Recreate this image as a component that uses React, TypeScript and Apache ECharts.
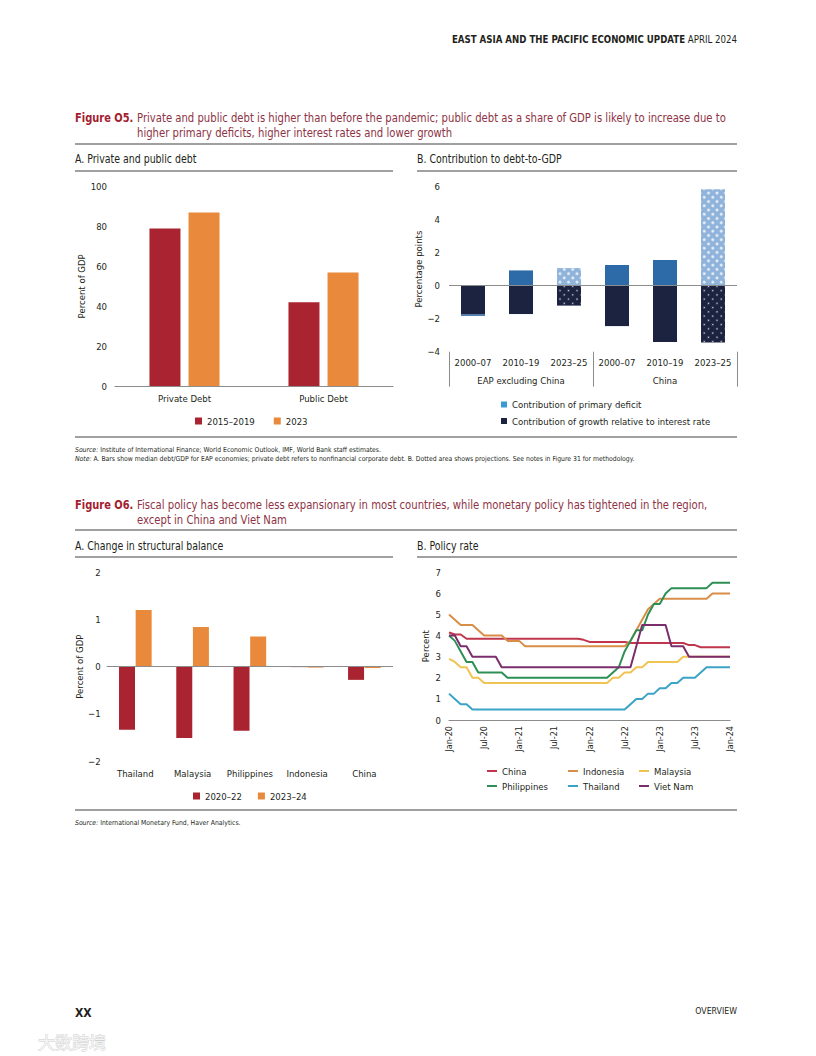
import React, { useEffect, useRef } from 'react';
import * as echarts from 'echarts';

const FONT = "'Liberation Sans Narrow', 'DejaVu Sans Condensed', 'Roboto', sans-serif";
const TEXT_COLOR = '#231f20';
const RULE_COLOR = '#808080';
const AXIS_COLOR = '#8c8c8c';

// ---------- Figure O5, panel A ----------
const DEBT_CATEGORIES = ['Private Debt', 'Public Debt'];
const DEBT_2015_2019 = [79, 42];
const DEBT_2023 = [87, 57];

// ---------- Figure O5, panel B ----------
const CONTRIB_PERIODS = ['2000–07', '2010–19', '2023–25', '2000–07', '2010–19', '2023–25'];
const CONTRIB_GROUPS = ['EAP excluding China', 'China'];
const PRIMARY_DEFICIT = [-0.08, 0.92, 1.06, 1.25, 1.55, 5.83];
const GROWTH_VS_INTEREST = [-1.75, -1.72, -1.21, -2.45, -3.42, -3.44];
const IS_PROJECTION = [false, false, true, false, false, true];

// ---------- Figure O6, panel A ----------
const SB_COUNTRIES = ['Thailand', 'Malaysia', 'Philippines', 'Indonesia', 'China'];
const SB_2020_22 = [-1.34, -1.51, -1.36, -0.01, -0.28];
const SB_2023_24 = [1.2, 0.84, 0.64, -0.02, -0.03];

// ---------- Figure O6, panel B ----------
const MONTH_ABBR = ['Jan', 'Feb', 'Mar', 'Apr', 'May', 'Jun', 'Jul', 'Aug', 'Sep', 'Oct', 'Nov', 'Dec'];
const YEARS = ['20', '21', '22', '23', '24'];
const MONTHS: string[] = [];
YEARS.forEach((y) => MONTH_ABBR.forEach((m) => MONTHS.push(m + '-' + y)));
MONTHS.length = 49; // Jan-20 .. Jan-24

const RATE_CHINA = [
  4.15, 4.05, 4.05, 3.85, 3.85, 3.85, 3.85, 3.85, 3.85, 3.85, 3.85, 3.85,
  3.85, 3.85, 3.85, 3.85, 3.85, 3.85, 3.85, 3.85, 3.85, 3.85, 3.85, 3.8,
  3.7, 3.7, 3.7, 3.7, 3.7, 3.7, 3.7, 3.65, 3.65, 3.65, 3.65, 3.65,
  3.65, 3.65, 3.65, 3.65, 3.65, 3.55, 3.55, 3.45, 3.45, 3.45, 3.45, 3.45,
  3.45,
];
const RATE_INDONESIA = [
  5.0, 4.75, 4.5, 4.5, 4.5, 4.25, 4.0, 4.0, 4.0, 4.0, 3.75, 3.75,
  3.75, 3.5, 3.5, 3.5, 3.5, 3.5, 3.5, 3.5, 3.5, 3.5, 3.5, 3.5,
  3.5, 3.5, 3.5, 3.5, 3.5, 3.5, 3.5, 3.75, 4.25, 4.75, 5.25, 5.5,
  5.75, 5.75, 5.75, 5.75, 5.75, 5.75, 5.75, 5.75, 5.75, 6.0, 6.0, 6.0,
  6.0,
];
const RATE_MALAYSIA = [
  2.9, 2.75, 2.5, 2.5, 2.0, 2.0, 1.75, 1.75, 1.75, 1.75, 1.75, 1.75,
  1.75, 1.75, 1.75, 1.75, 1.75, 1.75, 1.75, 1.75, 1.75, 1.75, 1.75, 1.75,
  1.75, 1.75, 1.75, 1.75, 2.0, 2.0, 2.25, 2.25, 2.5, 2.5, 2.75, 2.75,
  2.75, 2.75, 2.75, 2.75, 3.0, 3.0, 3.0, 3.0, 3.0, 3.0, 3.0, 3.0,
  3.0,
];
const RATE_PHILIPPINES = [
  4.0, 3.75, 3.25, 2.75, 2.75, 2.25, 2.25, 2.25, 2.25, 2.25, 2.0, 2.0,
  2.0, 2.0, 2.0, 2.0, 2.0, 2.0, 2.0, 2.0, 2.0, 2.0, 2.0, 2.0,
  2.0, 2.0, 2.0, 2.0, 2.25, 2.5, 3.25, 3.75, 4.25, 4.25, 5.0, 5.5,
  5.5, 6.0, 6.25, 6.25, 6.25, 6.25, 6.25, 6.25, 6.25, 6.5, 6.5, 6.5,
  6.5,
];
const RATE_THAILAND = [
  1.25, 1.0, 0.75, 0.75, 0.5, 0.5, 0.5, 0.5, 0.5, 0.5, 0.5, 0.5,
  0.5, 0.5, 0.5, 0.5, 0.5, 0.5, 0.5, 0.5, 0.5, 0.5, 0.5, 0.5,
  0.5, 0.5, 0.5, 0.5, 0.5, 0.5, 0.5, 0.75, 1.0, 1.0, 1.25, 1.25,
  1.5, 1.5, 1.75, 1.75, 2.0, 2.0, 2.0, 2.25, 2.5, 2.5, 2.5, 2.5,
  2.5,
];
const RATE_VIETNAM = [
  4.0, 4.0, 3.5, 3.5, 3.0, 3.0, 3.0, 3.0, 3.0, 2.5, 2.5, 2.5,
  2.5, 2.5, 2.5, 2.5, 2.5, 2.5, 2.5, 2.5, 2.5, 2.5, 2.5, 2.5,
  2.5, 2.5, 2.5, 2.5, 2.5, 2.5, 2.5, 2.5, 3.5, 4.5, 4.5, 4.5,
  4.5, 4.5, 3.5, 3.5, 3.5, 3.0, 3.0, 3.0, 3.0, 3.0, 3.0, 3.0,
  3.0,
];

const RATE_SERIES = [
  { name: 'China', data: RATE_CHINA, color: '#c0364c' },
  { name: 'Indonesia', data: RATE_INDONESIA, color: '#d98e48' },
  { name: 'Malaysia', data: RATE_MALAYSIA, color: '#f0c453' },
  { name: 'Philippines', data: RATE_PHILIPPINES, color: '#2e8f55' },
  { name: 'Thailand', data: RATE_THAILAND, color: '#3ba3c6' },
  { name: 'Viet Nam', data: RATE_VIETNAM, color: '#7a2e6e' },
];

const RED = '#aa2330';
const ORANGE = '#e8893b';
const PRIMARY_BLUE = '#2c6ba8';
const PRIMARY_LEGEND = '#3a9ad4';
const NAVY = '#1b2340';

const minus = (v: number) => String(v).replace('-', '−');

function text(t: string, x: number, y: number, o: any = {}) {
  return {
    type: 'text',
    x,
    y,
    scaleX: o.sx ?? 1,
    silent: true,
    style: {
      text: t,
      fontFamily: FONT,
      fontSize: o.size ?? 10,
      fontWeight: o.weight ?? 'normal',
      fontStyle: o.style ?? 'normal',
      fill: o.fill ?? TEXT_COLOR,
      align: o.align ?? 'left',
      textAlign: o.align ?? 'left',
      verticalAlign: 'middle',
      textVerticalAlign: 'middle',
      rich: o.rich,
    },
  };
}

function rule(x1: number, x2: number, y: number, w = 1.3) {
  return {
    type: 'line',
    silent: true,
    shape: { x1, y1: y, x2, y2: y },
    style: { stroke: RULE_COLOR, lineWidth: w },
  };
}

const TITLE_BOLD = '#a3212f';
const TITLE_REG = '#8e3344';

export default function App() {
  const ref = useRef<HTMLDivElement>(null);

  useEffect(() => {
    if (!ref.current) return;
    const chart = echarts.init(ref.current, null, { renderer: 'svg', width: 816, height: 1056 });

    const tickLabel = { fontFamily: FONT, fontSize: 9.5, color: TEXT_COLOR };
    const zeroLine = {
      silent: true,
      symbol: ['none', 'none'],
      label: { show: false },
      lineStyle: { color: AXIS_COLOR, width: 1.2, type: 'solid' },
      data: [{ yAxis: 0 }],
    };
    const legendText = { fontFamily: FONT, fontSize: 9.5, color: TEXT_COLOR };
    const nameStyle = { fontFamily: FONT, fontSize: 9.5, color: TEXT_COLOR };
    const italicRich = { i: { fontFamily: FONT, fontSize: 6.8, fontStyle: 'italic', fill: TEXT_COLOR } };

    const option: any = {
      animation: false,
      backgroundColor: '#ffffff',
      textStyle: { fontFamily: FONT, color: TEXT_COLOR },
      grid: [
        { left: 115, top: 186.7, width: 278, height: 199.3 },
        { left: 449, top: 186.5, width: 288, height: 165.2 },
        { left: 106.7, top: 572.3, width: 286.3, height: 188.7 },
        { left: 449, top: 572.3, width: 281, height: 147.7 },
      ],
      xAxis: [
        {
          gridIndex: 0,
          type: 'category',
          data: DEBT_CATEGORIES,
          axisLine: { lineStyle: { color: AXIS_COLOR, width: 1.2 } },
          axisTick: { show: false },
          axisLabel: { ...tickLabel, margin: 7, interval: 0 },
        },
        {
          gridIndex: 1,
          type: 'category',
          data: CONTRIB_PERIODS,
          position: 'bottom',
          axisLine: { show: false, onZero: false },
          axisTick: { show: false },
          axisLabel: { ...tickLabel, margin: 6, interval: 0 },
        },
        {
          gridIndex: 1,
          type: 'category',
          data: CONTRIB_GROUPS,
          position: 'bottom',
          axisLine: { show: false, onZero: false },
          axisTick: { show: true, length: 35, interval: 0, lineStyle: { color: AXIS_COLOR, width: 1 } },
          axisLabel: { ...tickLabel, margin: 24, interval: 0 },
        },
        {
          gridIndex: 2,
          type: 'category',
          data: SB_COUNTRIES,
          axisLine: { show: false, onZero: false },
          axisTick: { show: false },
          axisLabel: { ...tickLabel, margin: 7, interval: 0 },
        },
        {
          gridIndex: 3,
          type: 'category',
          data: MONTHS,
          boundaryGap: false,
          axisLine: { lineStyle: { color: AXIS_COLOR, width: 1.2 } },
          axisTick: { show: false },
          axisLabel: { ...tickLabel, fontSize: 9, interval: 5, rotate: 90, margin: 6 },
        },
      ],
      yAxis: [
        {
          gridIndex: 0,
          type: 'value',
          min: 0,
          max: 100,
          interval: 20,
          axisLine: { show: false },
          axisTick: { show: false },
          splitLine: { show: false },
          axisLabel: { ...tickLabel, margin: 8 },
          name: 'Percent of GDP',
          nameLocation: 'middle',
          nameGap: 29,
          nameTextStyle: nameStyle,
        },
        {
          gridIndex: 1,
          type: 'value',
          min: -4,
          max: 6,
          interval: 2,
          axisLine: { show: false },
          axisTick: { show: false },
          splitLine: { show: false },
          axisLabel: { ...tickLabel, margin: 9, formatter: minus },
          name: 'Percentage points',
          nameLocation: 'middle',
          nameGap: 21,
          nameTextStyle: nameStyle,
        },
        {
          gridIndex: 2,
          type: 'value',
          min: -2,
          max: 2,
          interval: 1,
          axisLine: { show: false },
          axisTick: { show: false },
          splitLine: { show: false },
          axisLabel: { ...tickLabel, margin: 6, formatter: minus },
          name: 'Percent of GDP',
          nameLocation: 'middle',
          nameGap: 21,
          nameTextStyle: nameStyle,
        },
        {
          gridIndex: 3,
          type: 'value',
          min: 0,
          max: 7,
          interval: 1,
          axisLine: { show: false },
          axisTick: { show: false },
          splitLine: { show: false },
          axisLabel: { ...tickLabel, margin: 8 },
          name: 'Percent',
          nameLocation: 'middle',
          nameGap: 19,
          nameTextStyle: nameStyle,
        },
      ],
      legend: [
        {
          data: ['2015–2019', '2023'],
          left: 195,
          top: 416,
          padding: 0,
          icon: 'rect',
          itemWidth: 7,
          itemHeight: 7,
          itemGap: 19,
          selectedMode: false,
          textStyle: legendText,
        },
        {
          data: [
            { name: 'Contribution of primary deficit', itemStyle: { color: PRIMARY_LEGEND } },
            { name: 'Contribution of growth relative to interest rate', itemStyle: { color: NAVY, decal: 'none' } },
          ],
          orient: 'vertical',
          left: 501,
          top: 399.5,
          padding: 0,
          icon: 'rect',
          itemWidth: 6,
          itemHeight: 6,
          itemGap: 6.5,
          selectedMode: false,
          textStyle: legendText,
        },
        {
          data: ['2020–22', '2023–24'],
          left: 193,
          top: 791,
          padding: 0,
          icon: 'rect',
          itemWidth: 7,
          itemHeight: 7,
          itemGap: 16,
          selectedMode: false,
          textStyle: legendText,
        },
        ...[
          ['China', 'Philippines', 487],
          ['Indonesia', 'Thailand', 568],
          ['Malaysia', 'Viet Nam', 639],
        ].map(([a, b, left]) => ({
          data: [a, b],
          orient: 'vertical',
          left,
          top: 766,
          padding: 0,
          icon: 'rect',
          itemWidth: 10,
          itemHeight: 2,
          itemGap: 5,
          selectedMode: false,
          textStyle: legendText,
        })),
      ],
      series: [
        {
          name: '2015–2019',
          type: 'bar',
          xAxisIndex: 0,
          yAxisIndex: 0,
          data: DEBT_2015_2019,
          barWidth: 31,
          barGap: '26%',
          itemStyle: { color: RED },
        },
        {
          name: '2023',
          type: 'bar',
          xAxisIndex: 0,
          yAxisIndex: 0,
          data: DEBT_2023,
          barWidth: 31,
          barGap: '26%',
          itemStyle: { color: ORANGE },
        },
        {
          name: 'Contribution of growth relative to interest rate',
          type: 'bar',
          xAxisIndex: 1,
          yAxisIndex: 1,
          stack: 'contrib',
          barWidth: 24,
          itemStyle: { color: NAVY },
          data: GROWTH_VS_INTEREST.map((v, i) =>
            IS_PROJECTION[i]
              ? {
                  value: v,
                  itemStyle: {
                    color: NAVY,
                    decal: {
                      symbol: 'circle',
                      symbolSize: 0.5,
                      dashArrayX: 3,
                      dashArrayY: 3,
                      color: 'rgba(255,255,255,0.85)',
                      rotation: Math.PI / 4,
                    },
                  },
                }
              : v
          ),
          markLine: zeroLine,
        },
        {
          name: 'Contribution of primary deficit',
          type: 'bar',
          xAxisIndex: 1,
          yAxisIndex: 1,
          stack: 'contrib',
          barWidth: 24,
          itemStyle: { color: PRIMARY_BLUE },
          data: PRIMARY_DEFICIT.map((v, i) =>
            IS_PROJECTION[i]
              ? {
                  value: v,
                  itemStyle: {
                    color: '#8fb3da',
                    decal: {
                      symbol: 'circle',
                      symbolSize: 0.9,
                      dashArrayX: 3,
                      dashArrayY: 3,
                      color: 'rgba(255,255,255,0.9)',
                      rotation: Math.PI / 4,
                    },
                  },
                }
              : v
          ),
        },
        {
          name: '2020–22',
          type: 'bar',
          xAxisIndex: 3,
          yAxisIndex: 2,
          data: SB_2020_22,
          barWidth: 16,
          barGap: '4%',
          itemStyle: { color: RED },
          markLine: zeroLine,
        },
        {
          name: '2023–24',
          type: 'bar',
          xAxisIndex: 3,
          yAxisIndex: 2,
          data: SB_2023_24,
          barWidth: 16,
          barGap: '4%',
          itemStyle: { color: ORANGE },
        },
        ...RATE_SERIES.map((s) => ({
          name: s.name,
          type: 'line',
          xAxisIndex: 4,
          yAxisIndex: 3,
          data: s.data,
          showSymbol: false,
          symbol: 'none',
          itemStyle: { color: s.color },
          lineStyle: { color: s.color, width: 2 },
        })),
      ],
      graphic: [
        text('{b|EAST ASIA AND THE PACIFIC ECONOMIC UPDATE} APRIL 2024', 737, 39, {
          size: 10,
          sx: 0.96,
          align: 'right',
          rich: { b: { fontFamily: FONT, fontSize: 10, fontWeight: 'bold', fill: TEXT_COLOR } },
        }),
        // Figure O5
        text('Figure O5.', 75, 118, { size: 12.5, sx: 0.88, weight: 'bold', fill: TITLE_BOLD }),
        text(
          'Private and public debt is higher than before the pandemic; public debt as a share of GDP is likely to increase due to',
          137,
          118,
          { size: 12.5, sx: 0.897, fill: TITLE_REG }
        ),
        text('higher primary deficits, higher interest rates and lower growth', 137, 132.5, {
          size: 12.5,
          sx: 0.897,
          fill: TITLE_REG,
        }),
        rule(75, 737, 144),
        text('A. Private and public debt', 75, 159, { size: 11.5, sx: 0.91 }),
        text('B. Contribution to debt-to-GDP', 417, 159, { size: 11.5, sx: 0.91 }),
        rule(75, 393, 171),
        rule(417, 737, 171),
        rule(75, 737, 437),
        text(
          '{i|Source:} Institute of International Finance; World Economic Outlook, IMF, World Bank staff estimates.',
          75,
          450,
          { size: 6.8, rich: italicRich }
        ),
        text(
          '{i|Note:} A. Bars show median debt/GDP for EAP economies; private debt refers to nonfinancial corporate debt. B. Dotted area shows projections. See notes in Figure 31 for methodology.',
          75,
          459,
          { size: 6.8, rich: italicRich }
        ),
        // Figure O6
        text('Figure O6.', 75, 505, { size: 12.5, sx: 0.88, weight: 'bold', fill: TITLE_BOLD }),
        text(
          'Fiscal policy has become less expansionary in most countries, while monetary policy has tightened in the region,',
          137,
          505,
          { size: 12.5, sx: 0.897, fill: TITLE_REG }
        ),
        text('except in China and Viet Nam', 137, 519.5, { size: 12.5, sx: 0.897, fill: TITLE_REG }),
        rule(75, 737, 530),
        text('A. Change in structural balance', 75, 546, { size: 11.5, sx: 0.91 }),
        text('B. Policy rate', 417, 546, { size: 11.5, sx: 0.91 }),
        rule(75, 393, 557),
        rule(417, 737, 557),
        rule(75, 737, 810),
        text('{i|Source:} International Monetary Fund, Haver Analytics.', 75, 822.5, {
          size: 6.8,
          rich: italicRich,
        }),
        // Footer
        text('XX', 75, 1013, { size: 12, weight: 'bold' }),
        text('OVERVIEW', 737, 1011, { size: 9.5, sx: 0.92, align: 'right' }),
        {
          type: 'text',
          x: 38,
          y: 1041,
          silent: true,
          style: {
            text: '大数跨境',
            fontFamily: "'Noto Sans CJK SC', sans-serif",
            fontSize: 17,
            fill: '#f4f4f4',
            stroke: '#cfcfcf',
            lineWidth: 0.8,
            align: 'left',
            textAlign: 'left',
            verticalAlign: 'middle',
            textVerticalAlign: 'middle',
          },
        },
      ],
    };

    chart.setOption(option);
    return () => chart.dispose();
  }, []);

  return (
    <div
      ref={ref}
      style={{ position: 'absolute', left: 0, top: 0, width: 816, height: 1056, background: '#fff' }}
    />
  );
}
